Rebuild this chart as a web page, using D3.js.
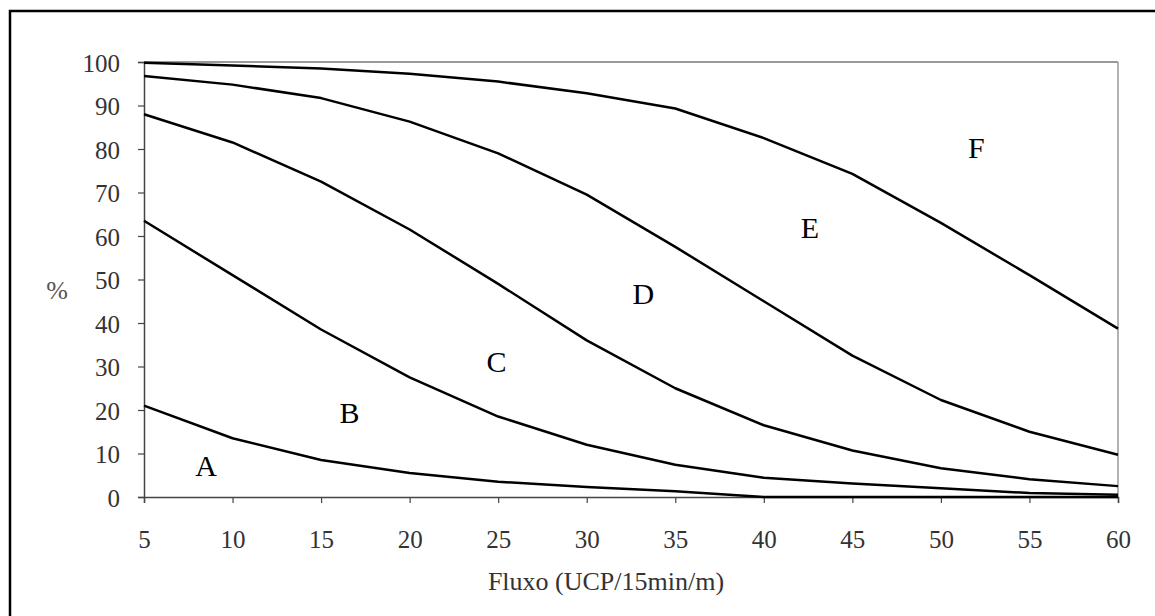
<!DOCTYPE html>
<html>
<head>
<meta charset="utf-8">
<script src="https://cdn.jsdelivr.net/npm/d3@7"></script>
<style>
  body { margin: 0; background: #fff; }
  svg { display: block; }
</style>
</head>
<body>
<svg id="chart" width="1155" height="616"></svg>
<script>
const xValues = [5, 10, 15, 20, 25, 30, 35, 40, 45, 50, 55, 60];
const seriesA = [21, 13.5, 8.5, 5.5, 3.5, 2.3, 1.3, 0, 0, 0, 0, 0];
const seriesB = [63.5, 51, 38.5, 27.5, 18.5, 12, 7.4, 4.4, 3.1, 2.0, 0.9, 0.5];
const seriesC = [88, 81.5, 72.5, 61.5, 49, 36, 25, 16.5, 10.7, 6.6, 4.1, 2.5];
const seriesD = [96.8, 94.8, 91.7, 86.3, 79, 69.5, 57.5, 45, 32.5, 22.3, 15, 9.7];
const seriesE = [99.8, 99.2, 98.5, 97.3, 95.5, 92.8, 89.3, 82.5, 74.3, 63, 51, 38.7];
const seriesNames = ["A", "B", "C", "D", "E", "F"];
const labelX = [8.5, 16.6, 24.9, 33.2, 42.6, 52.0];
const labelY = [7.1, 19.3, 31.0, 46.7, 61.8, 80.2];
const xTicks = [5, 10, 15, 20, 25, 30, 35, 40, 45, 50, 55, 60];
const yTicks = [0, 10, 20, 30, 40, 50, 60, 70, 80, 90, 100];
const xTitle = "Fluxo (UCP/15min/m)";
const yTitle = "%";

const svg = d3.select("#chart");
const x = d3.scaleLinear().domain([5, 60]).range([144, 1118]);
const y = d3.scaleLinear().domain([0, 100]).range([497, 62]);

// outer frame
svg.append("rect").attr("x", 10).attr("y", 11).attr("width", 1300).attr("height", 800)
  .attr("fill", "none").attr("stroke", "#000").attr("stroke-width", 2.5);

// plot frame (top and right)
svg.append("line").attr("x1", x(5)).attr("x2", x(60)).attr("y1", y(100)).attr("y2", y(100))
  .attr("stroke", "#777").attr("stroke-width", 1.5);
svg.append("line").attr("x1", x(60)).attr("x2", x(60)).attr("y1", y(100)).attr("y2", y(0))
  .attr("stroke", "#999").attr("stroke-width", 1.5);

const fontFam = "'Liberation Serif', 'Times New Roman', serif";

// axes
const yAxis = svg.append("g").attr("transform", `translate(${x(5)},0)`)
  .call(d3.axisLeft(y).tickValues(yTicks).tickSize(6).tickPadding(18));
const xAxis = svg.append("g").attr("transform", `translate(0,${y(0)})`)
  .call(d3.axisBottom(x).tickValues(xTicks).tickSize(6).tickPadding(27));
[xAxis, yAxis].forEach(g => {
  g.select(".domain").attr("stroke", "#444").attr("stroke-width", 1.5);
  g.selectAll(".tick line").attr("stroke", "#444").attr("stroke-width", 1.2);
  g.selectAll(".tick text").attr("font-family", fontFam).attr("font-size", 25).attr("fill", "#333");
});
yAxis.selectAll(".tick text").attr("dy", "0.36em");

// series
const all = [seriesA, seriesB, seriesC, seriesD, seriesE];
const line = d3.line().x((d, i) => x(xValues[i])).y(d => y(d));
all.forEach(s => {
  svg.append("path").datum(s).attr("d", line)
    .attr("fill", "none").attr("stroke", "#000").attr("stroke-width", 2.5)
    .attr("stroke-linejoin", "round");
});

// zone labels
seriesNames.forEach((n, i) => {
  svg.append("text").attr("x", x(labelX[i])).attr("y", y(labelY[i]) + 10)
    .attr("text-anchor", "middle")
    .attr("font-family", fontFam).attr("font-size", 30).attr("fill", "#000").text(n);
});

// titles
svg.append("text").attr("x", 606).attr("y", 590)
  .attr("text-anchor", "middle").attr("font-family", fontFam).attr("font-size", 26).attr("fill", "#333").text(xTitle);
svg.append("text").attr("x", 57).attr("y", 299).attr("text-anchor", "middle")
  .attr("font-family", fontFam).attr("font-size", 26).attr("fill", "#555").text(yTitle);
</script>
</body>
</html>
